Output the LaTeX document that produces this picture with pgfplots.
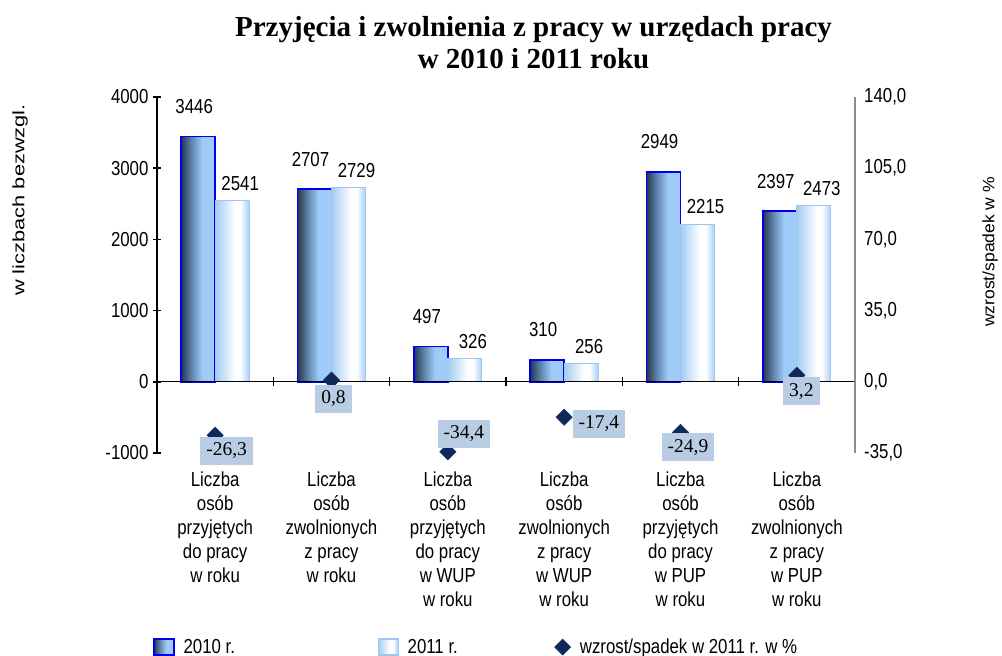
\documentclass[border=0pt]{standalone}
\usepackage{fontspec}
\setmainfont{Liberation Sans}[FakeStretch=0.83]
\newfontfamily\rotfontL{Liberation Sans}[FakeStretch=1.32]
\newfontfamily\rotfontR{Liberation Sans}[FakeStretch=1.06]
\newfontfamily\serifft{Liberation Serif}
\usepackage{pgfplots}
\usepackage{pgfplotstable}
\pgfplotsset{compat=1.18}
\definecolor{ca}{HTML}{26374D}
\definecolor{cb}{HTML}{5F84AD}
\definecolor{cc}{HTML}{9ECBF8}
\definecolor{da}{HTML}{A3CCF3}
\definecolor{db}{HTML}{FFFFFF}
\definecolor{dc}{HTML}{A6CFFA}
\definecolor{borderA}{HTML}{0000EE}
\definecolor{borderB}{HTML}{9DC6F0}
\definecolor{navy}{HTML}{10285A}
\definecolor{labbox}{HTML}{B8CCE4}
\definecolor{raxis}{HTML}{8C8C8C}
\pgfdeclarehorizontalshading{shA}{100bp}{color(0bp)=(ca); color(25bp)=(ca); color(40bp)=(cb); color(56bp)=(cc); color(75bp)=(cc); color(100bp)=(cc)}
\pgfdeclarehorizontalshading{shB}{100bp}{color(0bp)=(da); color(25bp)=(da); color(54bp)=(db); color(62bp)=(db); color(75bp)=(dc); color(100bp)=(dc)}
\newcommand\tf{\fontsize{15.2}{18}\selectfont}

\pgfplotsset{
  barA/.style={ybar, bar width=25.5pt, bar shift=-12.75pt, draw=borderA, line width=1.2pt, shading=shA, shade,
    nodes near coords={\pgfmathprintnumber[set thousands separator={}]{\pgfplotspointmeta}},
    every node near coord/.append style={font=\tf, text=black, anchor=center, xshift=-15.75pt, yshift=22.5pt}},
  barB/.style={ybar, bar width=25.5pt, bar shift=12.75pt, draw=borderB, line width=0.8pt, shading=shB, shade,
    nodes near coords={\pgfmathprintnumber[set thousands separator={}]{\pgfplotspointmeta}},
    every node near coord/.append style={font=\tf, text=black, anchor=center, xshift=18.75pt, yshift=13pt}},
}

\pgfplotstableread{
x y lab dx dy
0.5 -26.3 -26,3 8.6 -11.6
1.5 0.8 0,8 1.5 -14
2.5 -34.4 -34,4 12 13.5
3.5 -17.4 -17,4 26 -5
4.5 -24.9 -24,9 5.6 -11.1
5.5 3.2 3,2 3.4 -12
}\pct

\begin{document}
\begin{tikzpicture}
\path[use as bounding box] (-117.75pt,-152.25pt) rectangle (633.75pt,339.75pt);
% left axis with bars
\begin{axis}[
  at={(0pt,0pt)}, anchor=south west, scale only axis,
  width=523.5pt, height=267pt,
  xmin=0, xmax=6, ymin=-1000, ymax=4000,
  enlargelimits=false, clip=false,
  axis y line*=left, axis x line*=bottom,
  x axis line style={draw=none},
  y axis line style={line width=2pt, black},
  xtick={0.5,1.5,2.5,3.5,4.5,5.5},
  xticklabels={{Liczba\\osób\\przyjętych\\do pracy\\w roku},
               {Liczba\\osób\\zwolnionych\\z pracy\\w roku},
               {Liczba\\osób\\przyjętych\\do pracy\\w WUP\\w roku},
               {Liczba\\osób\\zwolnionych\\z pracy\\w WUP\\w roku},
               {Liczba\\osób\\przyjętych\\do pracy\\w PUP\\w roku},
               {Liczba\\osób\\zwolnionych\\z pracy\\w PUP\\w roku}},
  x tick style={draw=none},
  xticklabel style={align=center, font=\tf, anchor=north, yshift=-8pt},
  ytick={-1000,0,1000,2000,3000,4000},
  y tick style={line width=1.2pt, black},
  tick align=center, major tick length=5.75pt,
  scaled y ticks=false,
  yticklabel style={font=\tf, /pgf/number format/set thousands separator={}},
  /pgf/number format/assume math mode=true,
]
% 2010
\addplot[barA] coordinates {(0.5,3446)};
\addplot[barA] coordinates {(1.5,2707)};
\addplot[barA] coordinates {(2.5,497)};
\addplot[barA] coordinates {(3.5,310)};
\addplot[barA] coordinates {(4.5,2949)};
\addplot[barA] coordinates {(5.5,2397)};
% 2011
\addplot[barB] coordinates {(0.5,2541)};
\addplot[barB] coordinates {(1.5,2729)};
\addplot[barB] coordinates {(2.5,326)};
\addplot[barB] coordinates {(3.5,256)};
\addplot[barB] coordinates {(4.5,2215)};
\addplot[barB] coordinates {(5.5,2473)};
\end{axis}
% right axis with percentages
\begin{axis}[
  at={(0pt,0pt)}, anchor=south west, scale only axis,
  width=523.5pt, height=267pt,
  xmin=0, xmax=6, ymin=-35, ymax=140,
  enlargelimits=false, clip=false,
  axis y line*=right, axis x line*=middle,
  hide obscured x ticks=false,
  x axis line style={black, line width=1pt},
  y axis line style={raxis, line width=2pt},
  xtick={0,1,2,3,4,5,6}, xticklabels={},
  x tick style={black, line width=1pt},
  tick align=center, major tick length=6.75pt,
  ytick={-35,0,35,70,105,140},
  y tick style={draw=none},
  yticklabel style={font=\tf, /pgf/number format/.cd, fixed, fixed zerofill, precision=1, use comma},
  /pgf/number format/assume math mode=true,
  legend style={at={(axis description cs:-0.0057,-0.545)}, anchor=west, draw=none, fill=none,
    inner sep=0pt, outer sep=0pt, font=\tf, legend columns=3,
    /tikz/every odd column/.append style={column sep=6.75pt},
    /tikz/every even column/.append style={column sep=0pt},
    nodes={inner sep=0pt}},
  legend cell align=left,
]
\addlegendimage{legend image code/.code={\draw[draw=borderA, line width=1.2pt, shading=shA, shade] (0pt,-6pt) rectangle (15pt,6pt);}}
\addlegendentry{\makebox[145.5pt][l]{2010 r.}}
\addlegendimage{legend image code/.code={\draw[draw=borderB, line width=0.8pt, shading=shB, shade] (0pt,-6pt) rectangle (15pt,6pt);}}
\addlegendentry{\makebox[110pt][l]{2011 r.}}
\addlegendimage{legend image code/.code={\fill[navy] (7.5pt,0pt) +(-6pt,0pt) -- +(0pt,6pt) -- +(6pt,0pt) -- +(0pt,-6pt) -- cycle;}}
\addlegendentry{wzrost/spadek w 2011 r. w \%}
\addplot[forget plot, only marks, mark=square*, mark size=4.3pt,
  mark options={rotate=45, fill=navy, draw=navy},
  nodes near coords, point meta=explicit symbolic,
  visualization depends on={\thisrow{dx}\as\ldx},
  visualization depends on={\thisrow{dy}\as\ldy},
  every node near coord/.append style={anchor=center, xshift=\ldx pt, yshift=\ldy pt,
    fill=labbox, inner sep=4.5pt, text=black, font=\serifft\fontsize{14.6}{16}\selectfont}]
  table[x=x, y=y, meta=lab]{\pct};
\end{axis}
\node[anchor=base, font=\serifft\bfseries\fontsize{21.75}{24}\selectfont] at (282.4pt,312pt) {Przyjęcia i zwolnienia z pracy w urzędach pracy};
\node[anchor=base, font=\serifft\bfseries\fontsize{21.75}{24}\selectfont] at (282.4pt,288pt) {w 2010 i 2011 roku};
\node[rotate=90, font=\rotfontL\fontsize{12.4}{14}\selectfont] at (-102.75pt,189.75pt) {w liczbach bezwzgl.};
\node[rotate=90, font=\rotfontR\fontsize{12.4}{14}\selectfont] at (624.75pt,150.75pt) {wzrost/spadek w \%};
\end{tikzpicture}
\end{document}
